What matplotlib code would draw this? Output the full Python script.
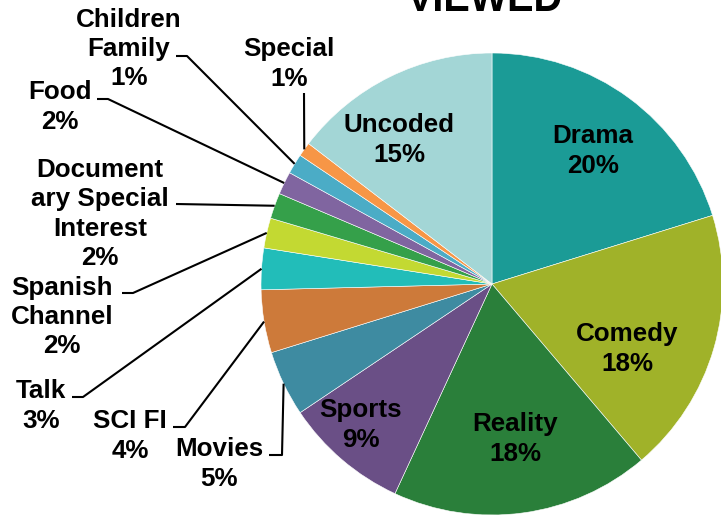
import matplotlib
matplotlib.use("Agg")
import matplotlib.pyplot as plt
import numpy as np

genres = [
    "Drama", "Comedy", "Reality", "Sports", "Movies", "SCI FI", "Talk",
    "Spanish\nChannel", "Document\nary Special\nInterest", "Food",
    "Children\nFamily", "Special", "Uncoded",
]
shares = [20.2, 18.6, 18.1, 8.7, 4.6, 4.4, 2.9, 2.1, 1.8, 1.6, 1.4, 1.0, 14.6]
pct_labels = ["20%", "18%", "18%", "9%", "5%", "4%", "3%", "2%", "2%", "2%", "1%", "1%", "15%"]
colors = [
    "#1B9B96", "#A0B229", "#2A7F3A", "#6A4F86", "#3E8BA1", "#CD7A3A", "#22BDB9",
    "#C3D932", "#35A04A", "#8065A0", "#4BACC6", "#F79646", "#A3D6D6",
]

W, H = 721, 515
CX, CY, R = 492, 284, 231  # pie centre / radius in image pixels (y down)

# label placement in image pixels (y down)
inside_pos = {0: (593, 149), 1: (627, 347), 2: (515, 437), 3: (361, 423), 12: (399, 138)}
outside_pos = {
    4: ((219, 462), [(269, 455), (282, 455)]),
    5: ((130, 434), [(173, 427), (185, 427)]),
    6: ((41, 404), [(72, 397), (83, 397)]),
    7: ((62, 315), [(122, 293), (133, 293)]),
    8: ((100, 212), [(176, 204)]),
    9: ((60, 105), [(97, 99), (108, 99)]),
    10: ((129, 47), [(176, 56), (187, 56)]),
    11: ((289, 62), [(304, 93)]),
}

FONT = "Liberation Sans"
FS = 18.7
LS = 1.28
TEXT_DY = 2  # matplotlib's centre sits a little higher than the measured glyph centre


def flip(p, dy=0):
    return p[0], H - p[1] - dy


def main() -> None:
    fig = plt.figure(figsize=(W / 100, H / 100), dpi=100)
    ax = fig.add_axes([0, 0, 1, 1])

    wedges, _ = ax.pie(
        shares,
        colors=colors,
        startangle=90,
        counterclock=False,
        center=(CX, H - CY),
        radius=R,
        wedgeprops=dict(edgecolor="white", linewidth=0.4),
    )
    ax.set_xlim(0, W)
    ax.set_ylim(0, H)
    ax.set_aspect("equal")
    ax.axis("off")

    for i, (name, pct) in enumerate(zip(genres, pct_labels)):
        label = f"{name}\n{pct}"
        if i in inside_pos:
            x, y = flip(inside_pos[i], TEXT_DY)
            ax.text(x, y, label, ha="center", va="center", fontsize=FS,
                    fontweight="bold", family=FONT, linespacing=LS)
            continue
        text_xy, path = outside_pos[i]
        x, y = flip(text_xy, TEXT_DY)
        ax.text(x, y, label, ha="center", va="center", fontsize=FS,
                fontweight="bold", family=FONT, linespacing=LS)
        w = wedges[i]
        mid = np.deg2rad((w.theta1 + w.theta2) / 2)
        edge = (CX + R * np.cos(mid), H - CY + R * np.sin(mid))
        pts = [flip(p) for p in path] + [edge]
        xs, ys = zip(*pts)
        ax.plot(xs, ys, color="black", linewidth=1.5, solid_capstyle="butt")

    # title is partly cut off at the top edge, as in the source image
    fig.text(485 / W, 1 - 11 / H, "VIEWED", ha="center", va="baseline",
             fontsize=28.5, fontweight="bold", family=FONT)

    fig.savefig("out.png", dpi=100)
    plt.close(fig)


if __name__ == "__main__":
    main()
